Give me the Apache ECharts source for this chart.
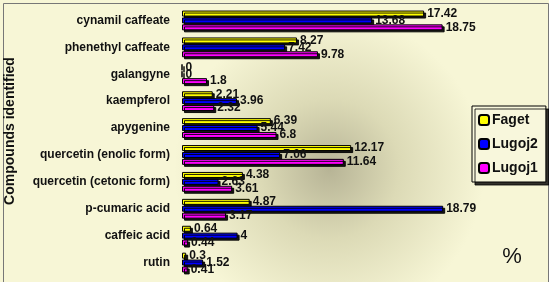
<!DOCTYPE html>
<html>
<head>
<meta charset="utf-8">
<script src="https://cdn.jsdelivr.net/npm/echarts@6/dist/echarts.min.js"></script>
<style>
  html, body { margin: 0; padding: 0; }
  #chart { width: 549px; height: 282px; }
</style>
</head>
<body>
<div id="chart"></div>
<script>
// compounds, top to bottom
var compounds = ['cynamil caffeate', 'phenethyl caffeate', 'galangyne', 'kaempferol', 'apygenine',
  'quercetin (enolic form)', 'quercetin (cetonic form)', 'p-cumaric acid', 'caffeic acid', 'rutin'];

// values in %
var faget  = [17.42, 8.27, 0, 2.21, 6.39, 12.17, 4.38, 4.87, 0.64, 0.3];
var lugoj2 = [13.68, 7.42, 0, 3.96, 5.44, 7.06, 2.63, 18.79, 4, 1.52];
var lugoj1 = [18.75, 9.78, 1.8, 2.32, 6.8, 11.64, 3.61, 3.17, 0.44, 0.41];

var seriesNames = ['Faget', 'Lugoj2', 'Lugoj1'];
var seriesColors = ['#ffff00', '#0000ff', '#ff00ff'];

var myChart = echarts.init(document.getElementById('chart'));

function makeSeries(name, data, color) {
  return {
    name: name,
    type: 'bar',
    data: data,
    barWidth: 6,
    barGap: '15%',
    itemStyle: {
      color: color,
      borderColor: '#000',
      borderWidth: 1,
      shadowColor: 'rgba(0,0,0,0.9)',
      shadowOffsetX: 2,
      shadowOffsetY: 2,
      shadowBlur: 0
    },
    label: {
      show: true,
      position: 'right',
      distance: 3,
      color: '#111',
      fontFamily: 'Liberation Sans',
      fontWeight: 'bold',
      fontSize: 12
    }
  };
}

var option = {
  backgroundColor: {
    type: 'radial', x: 0.6, y: 0.6, r: 0.55,
    colorStops: [
      { offset: 0, color: '#b7b496' },
      { offset: 0.45, color: '#dcdab6' },
      { offset: 1, color: '#f7f6d6' }
    ]
  },
  animation: false,
  grid: { left: 182, top: 7, width: 278, height: 269 },
  xAxis: {
    type: 'value', min: 0, max: 20,
    show: false
  },
  yAxis: {
    type: 'category',
    data: compounds,
    inverse: true,
    axisLine: { show: false },
    axisTick: { show: false },
    axisLabel: {
      margin: 12,
      color: '#111',
      fontFamily: 'Liberation Sans',
      fontWeight: 'bold',
      fontSize: 12
    }
  },
  legend: {
    data: seriesNames,
    orient: 'vertical',
    left: 472,
    top: 106,
    itemWidth: 10,
    itemHeight: 10,
    itemGap: 10,
    padding: [7, 8, 7, 6],
    backgroundColor: '#f8f7dc',
    borderColor: '#000',
    borderWidth: 1,
    shadowColor: 'rgba(0,0,0,0.8)',
    shadowOffsetX: 3,
    shadowOffsetY: 3,
    shadowBlur: 0,
    textStyle: {
      color: '#111',
      fontFamily: 'Liberation Sans',
      fontWeight: 'bold',
      fontSize: 14,
      padding: [0, 0, 0, -2]
    }
  },
  graphic: [
    {
      type: 'rect', left: 1, top: 1,
      shape: { width: 545, height: 285 },
      style: { fill: 'none', stroke: '#777', lineWidth: 1 }
    },
    {
      type: 'text', x: 10, y: 131, rotation: Math.PI / 2,
      style: {
        text: 'Compounds identified',
        fill: '#111',
        font: 'bold 14px "Liberation Sans"',
        align: 'center',
        verticalAlign: 'middle'
      }
    },
    {
      type: 'text', x: 512, y: 257,
      style: {
        text: '%',
        fill: '#111',
        font: '22px "Liberation Sans"',
        align: 'center',
        verticalAlign: 'middle'
      }
    }
  ],
  series: [
    makeSeries(seriesNames[0], faget, seriesColors[0]),
    makeSeries(seriesNames[1], lugoj2, seriesColors[1]),
    makeSeries(seriesNames[2], lugoj1, seriesColors[2])
  ]
};

myChart.setOption(option);
</script>
</body>
</html>
